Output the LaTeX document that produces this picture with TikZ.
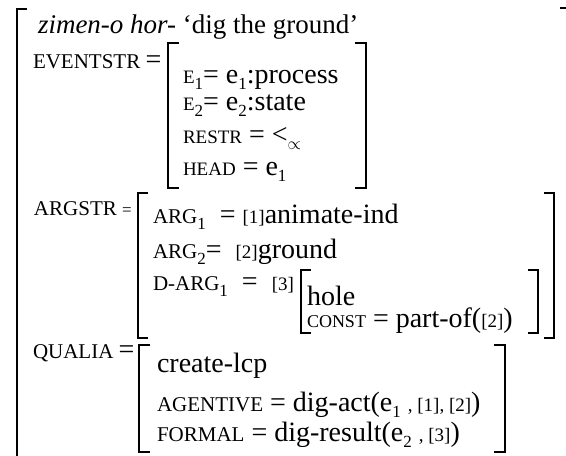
\documentclass[tikz,border=0pt]{standalone}
\usepackage{fontspec}
\setmainfont{Liberation Serif}
\newcommand\fbig{\fontsize{28}{30}\selectfont}
\newcommand\fttl{\fontsize{27}{30}\selectfont}
\newcommand\fsm{\fontsize{21}{24}\selectfont}
\newcommand\fsn{\fontsize{19}{22}\selectfont}
\newcommand\fcs{\fontsize{18}{20}\selectfont}
\newcommand\fsb{\fontsize{17}{20}\selectfont}
\newcommand\ftg{\fontsize{19}{20}\selectfont}
\newcommand\sbx[1]{\raisebox{-6pt}[\height][0pt]{\fsb #1}}
\newcommand\tg[1]{{\ftg[#1]}}
\tikzset{
  txt/.style={anchor=base west, inner sep=0pt, outer sep=0pt, font=\fbig},
  lbl/.style={anchor=base west, inner sep=0pt, outer sep=0pt, font=\fsm},
  brk/.style={line width=1.4pt, line cap=rect}
}
\begin{document}
\begin{tikzpicture}[x=1pt,y=-1pt]
\useasboundingbox (0,0) rectangle (566,456);
% outer brackets
\draw[brk] (26,9) -- (17,9) -- (17,460);
\draw[brk] (561,8) -- (567,8);
\node[txt, font=\fttl] (title) at (38,33) {\textit{zimen-o hor-} ‘dig the ground’};
% EVENTSTR
\node[lbl] (ev) at (33,68) {EVENTSTR {\fbig=}};
\draw[brk] (178,43) -| (168,188) -- (178,188);
\draw[brk] (356,43) -| (366,188) -- (356,188);
\node[txt] (e1) at (183,83) {{\fsn E}\sbx{1}= e\sbx{1}:process};
\node[txt] (e2) at (183,110) {{\fsn E}\sbx{2}= e\sbx{2}:state};
\node[txt] (restr) at (183,143) {{\fsn RESTR} = <\sbx{$\propto$}};
\node[txt] (head) at (183,175) {{\fsn HEAD} = e\sbx{1}};
% ARGSTR
\node[lbl] (ar) at (34,215) {ARGSTR {\fsb=}};
\draw[brk] (147,193) -| (138,338) -- (147,338);
\draw[brk] (545,193) -| (554,338) -- (545,338);
\node[txt] (a1) at (153,223) {{\fsm ARG}\sbx{1}\ \ = \tg{1}animate-ind};
\node[txt] (a2) at (153,258) {{\fsm ARG}\sbx{2}=\ \ \tg{2}ground};
\node[txt] (da) at (153,290) {{\fsm D-ARG}\sbx{1}\ \ =\ \ \tg{3}};
\draw[brk] (310,270) -| (301,333) -- (310,333);
\draw[brk] (529,270) -| (538,333) -- (529,333);
\node[txt] (hole) at (307,305) {hole};
\node[txt] (const) at (307,327) {{\fcs CONST} = part-of(\tg{2})};
% QUALIA
\node[lbl] (qu) at (33,358) {QUALIA {\fbig=}};
\draw[brk] (149,345) -| (139,452) -- (149,452);
\draw[brk] (495,345) -| (505,452) -- (495,452);
\node[txt] (cl) at (157,372) {create-lcp};
\node[txt] (ag) at (157,411) {{\fsm AGENTIVE} = dig-act(e\sbx{1}\ {\ftg, [1],\ [2]})};
\node[txt] (fo) at (157,441) {{\fsm FORMAL} = dig-result(e\sbx{2}\ {\ftg, [3]})};
\end{tikzpicture}
\end{document}
